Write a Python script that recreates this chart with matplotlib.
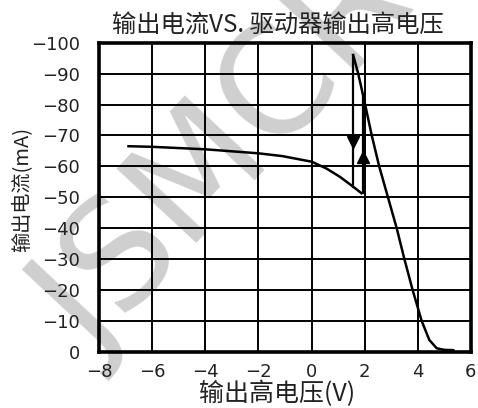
import matplotlib
matplotlib.use("Agg")
import matplotlib.pyplot as plt

# ---- data ----
lower_x = [-6.9, -6.0, -4.0, -2.0, -1.1, 0.0, 0.56, 1.07, 1.57, 1.88]
lower_y = [-66.5, -66.3, -65.5, -64.2, -63.3, -61.5, -59.3, -56.6, -53.4, -51.3]

upper_x = [1.57, 1.76, 2.01, 2.27, 2.55, 2.88, 3.21, 3.50, 3.81, 4.15, 4.44, 4.72, 5.0, 5.34]
upper_y = [-96.0, -90.0, -80.4, -70.0, -60.0, -50.0, -40.0, -30.0, -20.0, -10.0, -3.8, -1.1, -0.6, -0.5]

drop_x = [1.57, 1.57]
drop_y = [-96.0, -53.4]
rise_x = [1.95, 1.95]
rise_y = [-51.3, -82.5]
arrow_down = (1.57, -68.0)
arrow_up = (1.95, -63.0)

x_ticks = [-8, -6, -4, -2, 0, 2, 4, 6]
y_ticks = [0, -10, -20, -30, -40, -50, -60, -70, -80, -90, -100]

title = "输出电流VS. 驱动器输出高电压"
xlabel = "输出高电压(V)"
ylabel = "输出电流(mA)"
watermark = "JSMCRO"

cjk = ['Noto Sans CJK SC', 'DejaVu Sans']

W, H = 478, 408
fig = plt.figure(figsize=(W / 100, H / 100), dpi=100)
L, R, T, B = 99.3, 470.7, 42.7, 351.7
ax = fig.add_axes([L / W, 1 - B / H, (R - L) / W, (B - T) / H])

ax.set_xlim(-8, 6)
ax.set_ylim(0, -100)
ax.set_xticks(x_ticks)
ax.set_yticks(y_ticks)
ax.tick_params(axis='both', length=0, labelsize=13, colors='#222222')
ax.tick_params(axis='y', pad=14)
ax.tick_params(axis='x', pad=8)
ax.grid(True, color='black', lw=1.4)
ax.set_axisbelow(True)
for s in ax.spines.values():
    s.set_linewidth(2.6)
    s.set_color('black')

# watermark (below grid and curves)
ax.text(0.56, 0.72, watermark, transform=fig.transFigure, fontsize=108,
        color='#cfcfcf', rotation=47, ha='center', va='center', zorder=0.3,
        clip_on=False, family='DejaVu Sans')

ax.plot(lower_x, lower_y, color='black', lw=1.8, zorder=5)
ax.plot(upper_x, upper_y, color='black', lw=1.8, zorder=5)
ax.plot(drop_x, drop_y, color='black', lw=1.6, zorder=5)
ax.plot(rise_x, rise_y, color='black', lw=1.6, zorder=5)
ax.plot([arrow_down[0]], [arrow_down[1]], marker='v', ms=8, color='black', zorder=6)
ax.plot([arrow_up[0]], [arrow_up[1]], marker='^', ms=8, color='black', zorder=6)

fig.text(277.5 / W, 1 - 25 / H, title, family=cjk, fontsize=17.5, ha='center',
         va='center', color='#222222')
fig.text(277.5 / W, 1 - 394 / H, xlabel, family=cjk, fontsize=18, ha='center',
         va='center', color='#222222')
fig.text(23 / W, 1 - 189 / H, ylabel, family=cjk, fontsize=14.5, ha='center',
         va='center', rotation=90, color='#222222')

fig.savefig("out.png", dpi=100)
